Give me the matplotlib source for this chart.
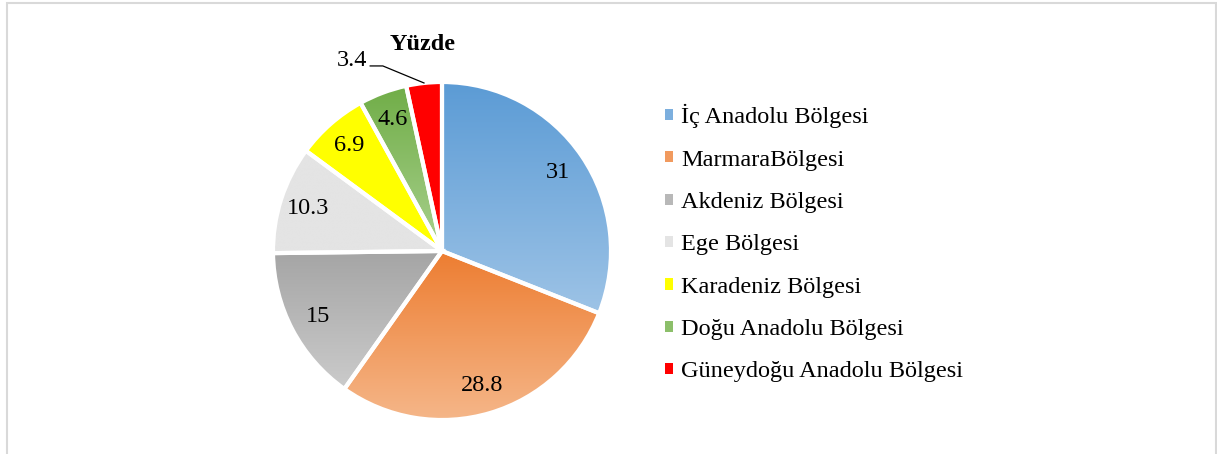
import matplotlib.pyplot as plt
import matplotlib.colors as mcolors
from matplotlib.patches import Patch, Rectangle
import numpy as np

plt.rcParams['font.family'] = ['Liberation Serif', 'DejaVu Serif']

regions = ['İç Anadolu Bölgesi', 'MarmaraBölgesi', 'Akdeniz Bölgesi', 'Ege Bölgesi',
           'Karadeniz Bölgesi', 'Doğu Anadolu Bölgesi', 'Güneydoğu Anadolu Bölgesi']
values = [31, 28.8, 15, 10.3, 6.9, 4.6, 3.4]
value_labels = ['31', '28.8', '15', '10.3', '6.9', '4.6', '3.4']
# gradient top -> bottom colours per slice
top_colors = ['#5b9bd5', '#ed7d31', '#a5a5a5', '#e4e4e4', '#ffff00', '#70ad47', '#ff0000']
bottom_colors = ['#9dc3e6', '#f5b78a', '#cbcbcb', '#e4e4e4', '#ffff00', '#a9d18e', '#ff0000']

W, H = 1217, 454
FS = 17.5
fig = plt.figure(figsize=(W / 100, H / 100), dpi=100)

# outer frame
fig.patches.append(Rectangle((7 / W, -0.1), (1216 - 7) / W, 1.1 - 3 / H,
                             transform=fig.transFigure, fill=False,
                             edgecolor='#d9d9d9', linewidth=1.5))

R = 169
cx, cy = 442, 251
ax = fig.add_axes([(cx - R) / W, (H - cy - R) / H, 2 * R / W, 2 * R / H])
ax.set_xlim(-1, 1)
ax.set_ylim(-1, 1)
ax.set_aspect('equal')
ax.axis('off')

wedges, _ = ax.pie(values, startangle=90, counterclock=False, radius=1,
                   wedgeprops=dict(linewidth=3, edgecolor='white'))

for w, c0, c1 in zip(wedges, top_colors, bottom_colors):
    w.set_facecolor('none')
    pts = w.get_patch_transform().transform(w.get_path().vertices)
    y0, y1 = pts[:, 1].min(), pts[:, 1].max()
    x0, x1 = pts[:, 0].min(), pts[:, 0].max()
    cmap = mcolors.LinearSegmentedColormap.from_list('g', [c1, c0])
    grad = np.linspace(0, 1, 256).reshape(-1, 1)
    im = ax.imshow(grad, cmap=cmap, extent=[x0, x1, y0, y1], origin='lower',
                   aspect='auto', zorder=1, interpolation='bilinear')
    im.set_clip_path(w)
    w.set_zorder(2)

ax.set_xlim(-1, 1)
ax.set_ylim(-1, 1)

# value labels
for i, (w, lab) in enumerate(zip(wedges, value_labels)):
    ang = np.deg2rad((w.theta1 + w.theta2) / 2)
    if i < len(values) - 1:
        ax.text(0.83 * np.cos(ang), 0.83 * np.sin(ang), lab, ha='center', va='center',
                fontsize=FS, zorder=5)
    else:
        ex, ey = np.cos(ang), np.sin(ang)
        ax.plot([ex, -0.35, -0.425], [ey, 1.095, 1.095], color='black', lw=0.9,
                clip_on=False)
        ax.text(-0.445, 1.125, lab, ha='right', va='center', fontsize=FS, clip_on=False)

fig.text(423 / W, 1 - 45 / H, 'Yüzde', ha='center', va='center', fontsize=FS,
         fontweight='bold')

handles = [Patch(facecolor=mcolors.to_hex(np.mean([mcolors.to_rgb(a), mcolors.to_rgb(b)], axis=0)),
                 edgecolor='none') for a, b in zip(top_colors, bottom_colors)]
fig.legend(handles, regions, loc='upper left', bbox_to_anchor=(665 / W, 1 - 104 / H),
           frameon=False, fontsize=FS, handlelength=0.33, handleheight=0.33,
           handletextpad=0.33, labelspacing=0.88, borderpad=0, borderaxespad=0)

fig.savefig('out.png', dpi=100)
